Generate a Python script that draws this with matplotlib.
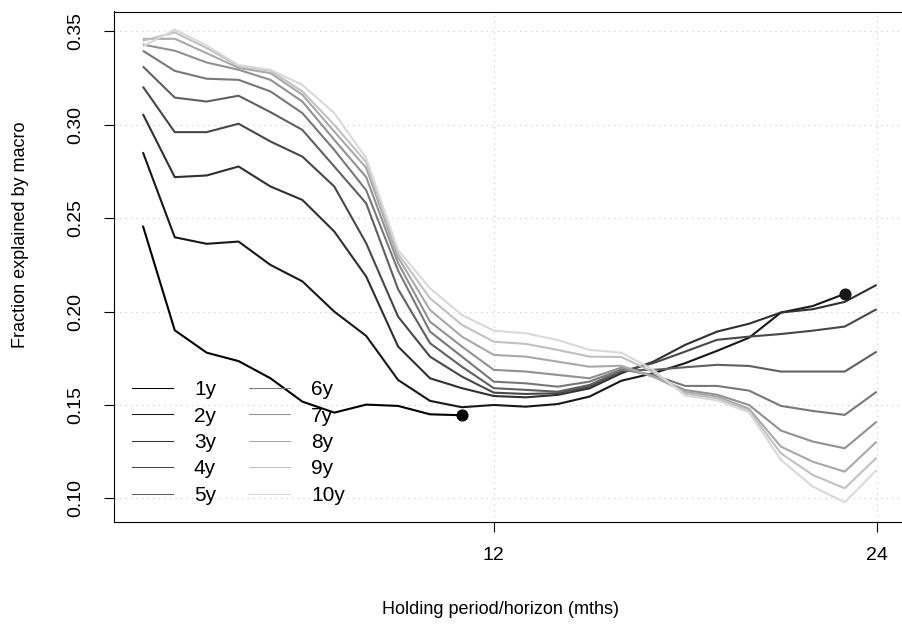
import matplotlib
matplotlib.use("Agg")
from matplotlib import pyplot as plt
from matplotlib.lines import Line2D
import numpy as np

# holding period / horizon in months
horizon = list(range(1, 25))
labels = ["1y", "2y", "3y", "4y", "5y", "6y", "7y", "8y", "9y", "10y"]

# fraction explained by macro, one list per maturity
frac_1y = [0.246, 0.190, 0.178, 0.1735, 0.1643, 0.1518, 0.1459, 0.1502, 0.1495, 0.1450, 0.1445]
frac_2y = [0.2854, 0.2398, 0.2363, 0.2375, 0.2250, 0.2162, 0.2000, 0.1870, 0.1634, 0.1522, 0.1488,
           0.1500, 0.1491, 0.1505, 0.1545, 0.1630, 0.1670, 0.1724, 0.1790, 0.1860, 0.1995, 0.2030,
           0.2095]
frac_3y = [0.3058, 0.2720, 0.2729, 0.2777, 0.2670, 0.2598, 0.2429, 0.2188, 0.1813, 0.1643, 0.1590,
           0.1548, 0.1541, 0.1554, 0.1589, 0.1670, 0.1732, 0.1822, 0.1893, 0.1935, 0.1995, 0.2013,
           0.2052, 0.2143]
frac_4y = [0.3205, 0.2961, 0.2961, 0.3006, 0.2911, 0.2830, 0.2670, 0.2366, 0.1973, 0.1759, 0.1652,
           0.1566, 0.1559, 0.1563, 0.1598, 0.1680, 0.1724, 0.1786, 0.1849, 0.1866, 0.1880, 0.1898,
           0.1920, 0.2013]
frac_5y = [0.3313, 0.3146, 0.3125, 0.3156, 0.3068, 0.2973, 0.2777, 0.2580, 0.2120, 0.1831, 0.1705,
           0.1590, 0.1581, 0.1571, 0.1607, 0.1685, 0.1688, 0.1702, 0.1715, 0.1709, 0.1679, 0.1679,
           0.1679, 0.1786]
frac_6y = [0.3397, 0.3289, 0.3247, 0.3241, 0.3179, 0.3063, 0.2866, 0.2650, 0.2220, 0.1893, 0.1759,
           0.1625, 0.1616, 0.1598, 0.1625, 0.1690, 0.1661, 0.1602, 0.1602, 0.1577, 0.1495, 0.1468,
           0.1447, 0.1571]
frac_7y = [0.3430, 0.3397, 0.3334, 0.3295, 0.3241, 0.3125, 0.2920, 0.2720, 0.2260, 0.1946, 0.1813,
           0.1688, 0.1679, 0.1661, 0.1643, 0.1700, 0.1652, 0.1580, 0.1555, 0.1500, 0.1363, 0.1304,
           0.1268, 0.1411]
frac_8y = [0.3460, 0.3461, 0.3384, 0.3305, 0.3277, 0.3161, 0.2964, 0.2770, 0.2290, 0.2009, 0.1866,
           0.1768, 0.1759, 0.1732, 0.1705, 0.1710, 0.1652, 0.1570, 0.1545, 0.1480, 0.1277, 0.1196,
           0.1143, 0.1304]
frac_9y = [0.3450, 0.3495, 0.3411, 0.3315, 0.3290, 0.3179, 0.3000, 0.2800, 0.2310, 0.2072, 0.1929,
           0.1839, 0.1827, 0.1795, 0.1759, 0.1757, 0.1675, 0.1560, 0.1535, 0.1470, 0.1241, 0.1125,
           0.1054, 0.1218]
frac_10y = [0.3420, 0.3510, 0.3425, 0.3320, 0.3295, 0.3214, 0.3063, 0.2822, 0.2330, 0.2125, 0.1982,
            0.1898, 0.1884, 0.1848, 0.1795, 0.1780, 0.1688, 0.1550, 0.1525, 0.1460, 0.1206, 0.1063,
            0.0979, 0.1152]

x_ticks = [12, 24]
y_ticks = [0.10, 0.15, 0.20, 0.25, 0.30, 0.35]


def main():
    plt.rcParams["font.family"] = ["Liberation Sans", "DejaVu Sans"]
    plt.rcParams["font.size"] = 13

    series = [frac_1y, frac_2y, frac_3y, frac_4y, frac_5y,
              frac_6y, frac_7y, frac_8y, frac_9y, frac_10y]
    shades = [str(g) for g in np.linspace(0.0, 0.85, len(series))]

    fig = plt.figure(figsize=(9.02, 6.29), dpi=100)
    ax = fig.add_axes([113.5 / 902, 1 - 521.7 / 629, (906 - 113.5) / 902, (521.7 - 11.5) / 629])

    # dotted grid first so the curves sit on top
    for xv in x_ticks:
        ax.axvline(xv, color="#c8c8c8", lw=0.8, ls=(0, (1, 4)), zorder=0)
    for yv in y_ticks:
        ax.axhline(yv, color="#c8c8c8", lw=0.8, ls=(0, (1, 4)), zorder=0)

    handles = []
    for vals, lab, col in zip(series, labels, shades):
        xs = horizon[:len(vals)]
        ax.plot(xs, vals, color=col, lw=1.5, solid_capstyle="butt",
                solid_joinstyle="round", zorder=2)
        # curves that stop before 24 months get a dot at their last point
        if len(vals) < len(horizon):
            ax.plot(xs[-1], vals[-1], "o", color=col, ms=7.7, zorder=3)
        handles.append(Line2D([], [], color=col, lw=0.75, label=lab))

    ax.set_xlim(0.08, 24.92)
    ax.set_ylim(0.0875, 0.3607)
    ax.set_xticks(x_ticks)
    ax.set_xticklabels([str(t) for t in x_ticks])
    ax.set_yticks(y_ticks)
    ax.set_yticklabels([f"{t:.2f}" for t in y_ticks], rotation=90, va="center")
    ax.tick_params(axis="both", length=7.2, width=0.8, direction="out", labelsize=14)
    ax.tick_params(axis="y", pad=14)
    ax.tick_params(axis="x", pad=11)
    for sp in ax.spines.values():
        sp.set_linewidth(0.8)

    w_px, h_px = 906 - 113.5, 521.7 - 11.5
    ax.set_xlabel("Holding period/horizon (mths)", fontsize=13)
    ax.set_ylabel("Fraction explained by macro", fontsize=13)
    ax.xaxis.set_label_coords((500 - 113.5) / w_px, -(601 - 521.7) / h_px)
    ax.yaxis.set_label_coords(-(113.5 - 29) / w_px, (521.7 - 235) / h_px)

    ax.legend(handles=handles, ncol=2, frameon=False, loc="upper left",
              bbox_to_anchor=((132 - 113.5) / w_px, (521.7 - 380) / h_px),
              borderpad=0, borderaxespad=0, handlelength=1.97, handletextpad=1.0,
              columnspacing=1.6, labelspacing=0.36, fontsize=15)

    fig.savefig("out.png", dpi=100)


if __name__ == "__main__":
    main()
